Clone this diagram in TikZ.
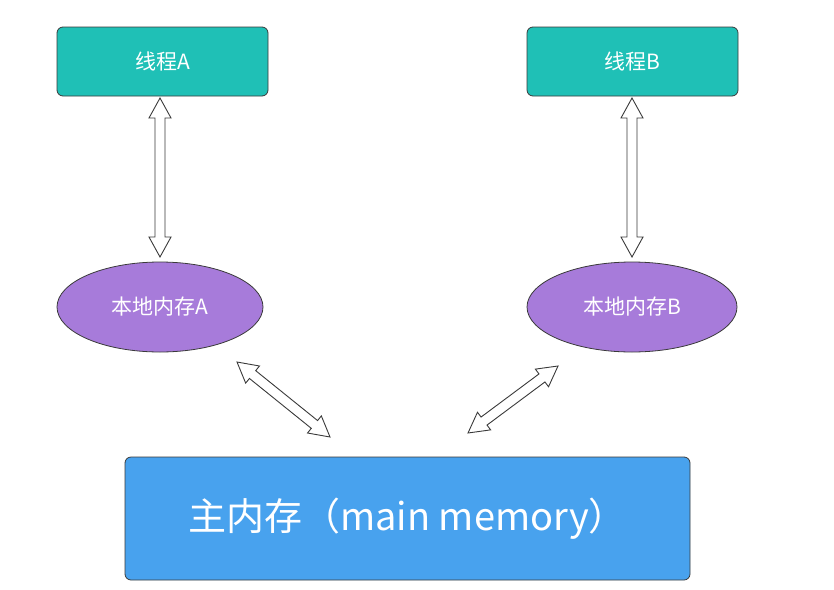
\documentclass[tikz,border=0pt]{standalone}
\usepackage{fontspec}
\setmainfont{Noto Sans CJK SC}
\usetikzlibrary{calc,shapes.geometric}
\definecolor{teal1}{HTML}{1FC0B6}
\definecolor{purp}{HTML}{A77BDA}
\definecolor{blu}{HTML}{48A2EE}
\definecolor{edge}{HTML}{3A3A3A}
\newcommand{\hollowarr}[2]{%
\draw[edge,fill=white,line width=0.9pt,line join=miter]
 (#1) -- ($($(#1)!20pt!(#2)$)!11pt!90:(#2)$) -- ($($(#1)!20pt!(#2)$)!5pt!90:(#2)$)
 -- ($($(#2)!20pt!(#1)$)!5pt!-90:(#1)$) -- ($($(#2)!20pt!(#1)$)!11pt!-90:(#1)$)
 -- (#2) -- ($($(#2)!20pt!(#1)$)!11pt!90:(#1)$) -- ($($(#2)!20pt!(#1)$)!5pt!90:(#1)$)
 -- ($($(#1)!20pt!(#2)$)!5pt!-90:(#2)$) -- ($($(#1)!20pt!(#2)$)!11pt!-90:(#2)$) -- cycle;}
\begin{document}
\begin{tikzpicture}[x=1pt,y=-1pt,
 box/.style={draw=edge,line width=0.8pt,rounded corners=6pt,text=white},
 ell/.style={ellipse,draw=edge,line width=0.8pt,fill=purp,text=white,font=\fontsize{21}{24}\selectfont,inner sep=0pt}]
\useasboundingbox (0,0) rectangle (834,589);
\node[box,fill=teal1,minimum width=211pt,minimum height=69pt,font=\fontsize{21}{24}\selectfont] (ta) at (162.5,61.5) {线程A};
\node[box,fill=teal1,minimum width=211pt,minimum height=69pt,font=\fontsize{21}{24}\selectfont] (tb) at (632.5,61.5) {线程B};
\node[ell,minimum width=206pt,minimum height=90pt] (ea) at (160,307) {本地内存A};
\node[ell,minimum width=210pt,minimum height=90pt] (eb) at (632,307) {本地内存B};
\node[box,fill=blu,minimum width=565pt,minimum height=123pt,font=\fontsize{38}{44}\selectfont] (mm) at (407.5,518.5) {主内存（main memory）};
\coordinate (a1) at (160,98); \coordinate (a2) at (160,257);
\coordinate (b1) at (632,98); \coordinate (b2) at (632,257);
\coordinate (c1) at (237,362); \coordinate (c2) at (330,437);
\coordinate (d1) at (558,366); \coordinate (d2) at (468,433);
\hollowarr{a1}{a2}
\hollowarr{b1}{b2}
\hollowarr{c1}{c2}
\hollowarr{d1}{d2}
\end{tikzpicture}
\end{document}
